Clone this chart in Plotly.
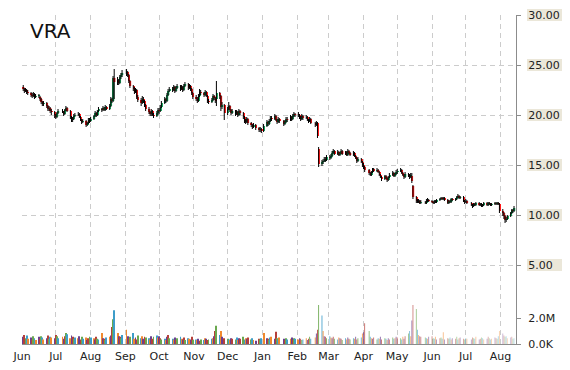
import pandas as pd
import plotly.graph_objects as go

# ---------------- data ----------------
ticker = "VRA"
holidays = ["2014-07-04", "2014-09-01", "2014-11-27", "2014-12-25", "2015-01-01",
            "2015-01-19", "2015-02-16", "2015-04-03", "2015-05-25", "2015-07-03"]
month_starts = ["2014-06-01", "2014-07-01", "2014-08-01", "2014-09-01", "2014-10-01",
                "2014-11-01", "2014-12-01", "2015-01-01", "2015-02-01", "2015-03-01",
                "2015-04-01", "2015-05-01", "2015-06-01", "2015-07-01", "2015-08-01"]
month_labels = ["Jun", "Jul", "Aug", "Sep", "Oct", "Nov", "Dec", "Jan", "Feb", "Mar",
                "Apr", "May", "Jun", "Jul", "Aug"]
price_ticks = [5, 10, 15, 20, 25, 30]
price_labels = ["5.00", "10.00", "15.00", "20.00", "25.00", "30.00"]
volume_ticks = [0, 2_000_000]
volume_labels = ["0.0K", "2.0M"]

opens = [
    22.8, 22.6, 22.4, 22.5, 22.3, 22.2, 22.0, 21.9, 22.1, 21.8, 21.9, 21.8, 21.6, 21.3, 21.1, 21.2, 20.9, 20.6, 20.7, 20.4, 20.3,
    20.0, 19.8, 20.2, 20.4, 20.3, 20.1, 20.5, 20.7, 20.4, 19.8, 19.5, 19.6, 19.9, 20.0, 20.1, 19.8, 19.5, 19.3, 19.4, 19.0, 19.2, 19.5,
    19.4, 19.6, 19.9, 20.2, 20.0, 20.4, 20.6, 20.5, 20.7, 20.5, 20.8, 20.6, 20.9, 21.6, 21.4, 23.7, 23.3, 23.5, 23.2, 23.8, 24.0,
    24.2, 24.3, 24.0, 23.4, 22.9, 22.6, 22.3, 22.5, 21.8, 21.5, 21.2, 21.6, 21.4, 21.0, 20.6, 20.3, 20.1, 20.4, 20.0, 19.9, 20.2,
    20.5, 20.4, 20.8, 21.2, 21.6, 21.4, 22.0, 22.4, 22.6, 22.5, 22.8, 22.4, 22.7, 22.9, 22.6, 22.8, 22.5, 22.9, 23.1, 22.7, 22.9, 22.6, 22.2,
    21.8, 21.6, 21.4, 21.9, 22.3, 22.2, 22.0, 22.3, 21.9, 21.4, 21.3, 21.5, 21.9, 21.7, 21.6, 22.2, 21.9, 20.8, 21.0,
    20.2, 20.6, 20.9, 20.5, 20.2, 20.4, 20.1, 20.3, 20.0, 20.4, 20.2, 19.8, 19.4, 19.3, 19.6, 19.2, 19.0, 18.8, 19.0, 18.7, 18.5, 18.6,
    18.4, 18.9, 19.3, 19.1, 19.4, 19.7, 19.6, 19.9, 19.5, 19.3, 19.6, 19.4, 19.1, 19.3, 19.6, 19.5, 19.8, 19.6, 19.9, 20.1,
    20.1, 20.0, 19.8, 19.6, 19.9, 19.7, 19.8, 19.5, 19.4, 19.6, 19.2, 19.0, 19.2, 16.6, 15.1, 15.3, 15.4, 15.6, 15.5,
    15.8, 15.7, 15.9, 16.2, 16.4, 16.1, 16.3, 16.0, 16.2, 16.4, 16.1, 16.3, 16.0, 16.4, 16.2, 16.0, 16.2, 15.9, 15.7, 15.4, 15.6, 15.3,
    15.0, 14.8, 14.5, 14.2, 14.0, 14.3, 14.6, 14.4, 14.5, 14.3, 14.0, 13.8, 13.6, 13.9, 13.7, 13.5, 13.8, 14.0, 14.2, 13.9, 14.1,
    14.3, 14.4, 14.5, 14.2, 14.0, 13.8, 14.1, 14.0, 13.8, 13.9, 12.9, 11.8, 11.4, 11.3, 11.4, 11.2, 11.3, 11.2, 11.4, 11.5,
    11.4, 11.3, 11.2, 11.4, 11.3, 11.5, 11.6, 11.7, 11.6, 11.7, 11.5, 11.2, 11.4, 11.3, 11.6, 11.5, 11.6, 11.8, 11.9, 11.7, 11.8, 11.4,
    11.3, 11.4, 11.2, 11.0, 10.9, 11.1, 11.0, 11.2, 11.0, 11.1, 10.9, 11.0, 11.2, 11.0, 11.2, 11.1, 11.0, 11.1, 11.2, 11.1, 11.2, 11.1,
    10.4, 10.2, 9.9, 9.5, 9.6, 9.9, 10.2, 10.5, 10.4,
]
highs = [
    23.0, 22.7, 22.7, 22.6, 22.5, 22.3, 22.2, 22.3, 22.2, 22.1, 22.1, 21.9, 21.7, 21.4, 21.4, 21.3, 21.0, 20.9, 20.8, 20.6, 20.4,
    20.1, 20.3, 20.6, 20.6, 20.4, 20.6, 20.9, 20.8, 20.5, 19.9, 19.8, 20.1, 20.2, 20.3, 20.2, 19.9, 19.6, 19.6, 19.5, 19.3, 19.7, 19.7,
    19.8, 20.0, 20.4, 20.3, 20.5, 20.8, 20.7, 20.9, 20.8, 21.0, 20.9, 21.1, 21.8, 21.7, 23.9, 24.6, 23.8, 23.6, 24.0, 24.2, 24.5,
    24.6, 24.4, 24.1, 23.5, 23.0, 22.8, 22.7, 22.6, 22.0, 21.7, 21.9, 21.8, 21.5, 21.1, 20.8, 20.4, 20.6, 20.5, 20.2, 20.4, 20.7,
    20.7, 21.0, 21.4, 21.8, 21.7, 22.2, 22.6, 22.8, 22.8, 23.0, 22.9, 22.9, 23.1, 23.0, 23.0, 22.9, 23.1, 23.3, 23.2, 23.1, 23.0, 22.7, 22.3,
    22.0, 21.8, 22.1, 22.6, 22.5, 22.3, 22.5, 22.4, 22.0, 21.6, 21.7, 22.1, 22.0, 21.8, 23.4, 22.3, 22.0, 21.3, 21.1,
    20.8, 21.3, 21.0, 20.6, 20.6, 20.5, 20.5, 20.4, 20.6, 20.5, 20.3, 19.9, 19.6, 19.8, 19.7, 19.3, 19.1, 19.2, 19.1, 18.8, 18.8, 18.7,
    19.1, 19.5, 19.4, 19.6, 19.9, 19.9, 20.1, 20.0, 19.6, 19.8, 19.7, 19.5, 19.5, 19.8, 19.8, 20.0, 19.9, 20.1, 20.3, 20.2,
    20.3, 20.1, 19.9, 20.1, 20.0, 20.0, 19.9, 19.6, 19.8, 19.7, 19.3, 19.4, 19.3, 16.8, 15.5, 15.6, 15.8, 15.8, 16.0,
    16.0, 16.1, 16.4, 16.6, 16.5, 16.5, 16.4, 16.3, 16.6, 16.5, 16.4, 16.4, 16.6, 16.5, 16.3, 16.4, 16.3, 16.0, 15.8, 15.8, 15.7, 15.4,
    15.2, 14.9, 14.6, 14.3, 14.4, 14.7, 14.7, 14.7, 14.6, 14.4, 14.1, 13.9, 14.0, 14.0, 13.8, 13.9, 14.2, 14.4, 14.3, 14.2, 14.5,
    14.6, 14.7, 14.6, 14.3, 14.1, 14.3, 14.2, 14.1, 14.2, 14.2, 13.0, 11.9, 11.6, 11.6, 11.5, 11.5, 11.4, 11.6, 11.7, 11.6,
    11.5, 11.4, 11.5, 11.5, 11.6, 11.7, 11.8, 11.8, 11.8, 11.8, 11.6, 11.5, 11.5, 11.7, 11.7, 11.7, 11.9, 12.1, 12.0, 11.9, 11.9, 11.5,
    11.6, 11.5, 11.3, 11.1, 11.2, 11.2, 11.3, 11.3, 11.2, 11.2, 11.1, 11.3, 11.3, 11.3, 11.3, 11.2, 11.2, 11.3, 11.3, 11.3, 11.3, 11.2,
    10.6, 10.3, 10.0, 9.8, 10.0, 10.3, 10.6, 10.6, 10.9,
]
lows = [
    22.4, 22.2, 22.3, 22.1, 22.0, 21.8, 21.7, 21.8, 21.6, 21.7, 21.7, 21.4, 21.1, 20.9, 20.9, 20.7, 20.4, 20.4, 20.2, 20.0, 19.7,
    19.6, 19.7, 20.1, 20.2, 19.9, 20.0, 20.4, 20.3, 19.6, 19.3, 19.3, 19.5, 19.8, 19.9, 19.7, 19.4, 19.1, 19.2, 18.8, 18.9, 19.1, 19.2,
    19.3, 19.5, 19.8, 19.8, 19.9, 20.3, 20.3, 20.4, 20.4, 20.4, 20.5, 20.5, 20.8, 21.2, 21.3, 21.6, 23.0, 23.0, 23.1, 23.6, 23.8,
    23.9, 23.8, 23.2, 22.7, 22.4, 22.1, 22.2, 21.6, 21.3, 20.9, 21.1, 21.2, 20.8, 20.4, 20.1, 19.9, 19.9, 19.9, 19.7, 19.8, 20.0,
    20.1, 20.3, 20.7, 21.1, 21.2, 21.3, 21.9, 22.3, 22.3, 22.4, 22.2, 22.3, 22.6, 22.4, 22.5, 22.3, 22.4, 22.8, 22.5, 22.6, 22.4, 22.0, 21.6,
    21.4, 21.2, 21.3, 21.8, 22.0, 21.8, 21.9, 21.8, 21.2, 21.1, 21.2, 21.4, 21.5, 21.2, 20.9, 21.6, 20.4, 20.6, 19.5,
    20.0, 20.5, 20.3, 20.0, 20.1, 19.9, 20.0, 19.8, 19.9, 20.0, 19.6, 19.2, 19.1, 19.2, 19.0, 18.8, 18.6, 18.7, 18.5, 18.3, 18.3, 18.2,
    18.3, 18.8, 18.9, 19.0, 19.3, 19.4, 19.5, 19.4, 19.1, 19.2, 19.2, 18.9, 19.0, 19.2, 19.3, 19.4, 19.4, 19.5, 19.8, 19.8,
    19.8, 19.6, 19.4, 19.5, 19.5, 19.6, 19.4, 19.2, 19.3, 19.1, 18.8, 18.9, 17.7, 14.8, 14.9, 15.1, 15.3, 15.3, 15.4,
    15.5, 15.6, 15.8, 16.1, 16.0, 16.0, 15.9, 15.9, 16.1, 16.0, 16.0, 15.9, 15.9, 16.1, 15.9, 15.9, 15.8, 15.6, 15.2, 15.3, 15.2, 14.8,
    14.6, 14.3, 14.0, 13.9, 13.9, 14.2, 14.3, 14.3, 14.2, 13.9, 13.7, 13.4, 13.5, 13.6, 13.3, 13.4, 13.7, 13.9, 13.8, 13.8, 14.0,
    14.1, 14.3, 14.1, 13.9, 13.6, 13.7, 13.8, 13.6, 13.7, 13.2, 11.6, 11.2, 11.2, 11.2, 11.1, 11.1, 11.1, 11.1, 11.3, 11.3,
    11.2, 11.1, 11.1, 11.2, 11.2, 11.4, 11.5, 11.5, 11.5, 11.4, 11.1, 11.1, 11.2, 11.2, 11.4, 11.4, 11.5, 11.7, 11.6, 11.6, 11.3, 11.1,
    11.2, 11.1, 10.9, 10.7, 10.8, 10.9, 10.9, 10.9, 10.9, 10.8, 10.8, 10.9, 10.9, 10.9, 11.0, 10.9, 10.9, 11.0, 11.0, 11.0, 11.0, 10.2,
    9.9, 9.6, 9.2, 9.3, 9.5, 9.8, 10.1, 10.2, 10.3,
]
closes = [
    22.6, 22.4, 22.5, 22.3, 22.2, 22.0, 21.9, 22.1, 21.8, 21.9, 21.9, 21.6, 21.3, 21.1, 21.2, 20.9, 20.6, 20.7, 20.4, 20.3, 20.0,
    19.8, 20.2, 20.4, 20.3, 20.1, 20.5, 20.7, 20.4, 19.8, 19.5, 19.6, 19.9, 20.0, 20.1, 19.8, 19.5, 19.3, 19.4, 19.0, 19.2, 19.5, 19.4,
    19.6, 19.9, 20.2, 20.0, 20.4, 20.6, 20.5, 20.7, 20.5, 20.8, 20.6, 20.9, 21.6, 21.4, 23.7, 23.3, 23.5, 23.2, 23.8, 24.0, 24.2,
    24.3, 24.0, 23.4, 22.9, 22.6, 22.3, 22.5, 21.8, 21.5, 21.2, 21.6, 21.4, 21.0, 20.6, 20.3, 20.1, 20.4, 20.0, 19.9, 20.2, 20.5,
    20.4, 20.8, 21.2, 21.6, 21.4, 22.0, 22.4, 22.6, 22.5, 22.8, 22.4, 22.7, 22.9, 22.6, 22.8, 22.5, 22.9, 23.1, 22.7, 22.9, 22.6, 22.2, 21.8,
    21.6, 21.4, 21.9, 22.3, 22.2, 22.0, 22.3, 21.9, 21.4, 21.3, 21.5, 21.9, 21.7, 21.4, 22.2, 21.9, 20.8, 21.0, 20.2,
    20.6, 20.9, 20.5, 20.2, 20.4, 20.1, 20.3, 20.0, 20.4, 20.2, 19.8, 19.4, 19.3, 19.6, 19.2, 19.0, 18.8, 19.0, 18.7, 18.5, 18.6, 18.4,
    18.9, 19.3, 19.1, 19.4, 19.7, 19.6, 19.9, 19.5, 19.3, 19.6, 19.4, 19.1, 19.3, 19.6, 19.5, 19.8, 19.6, 19.9, 20.1, 20.0,
    20.0, 19.8, 19.6, 19.9, 19.7, 19.8, 19.5, 19.4, 19.6, 19.2, 19.0, 19.2, 17.9, 15.1, 15.3, 15.4, 15.6, 15.5, 15.8,
    15.7, 15.9, 16.2, 16.4, 16.1, 16.3, 16.0, 16.2, 16.4, 16.1, 16.3, 16.0, 16.4, 16.2, 16.0, 16.2, 15.9, 15.7, 15.4, 15.6, 15.3, 15.0,
    14.8, 14.5, 14.2, 14.0, 14.3, 14.6, 14.4, 14.5, 14.3, 14.0, 13.8, 13.6, 13.9, 13.7, 13.5, 13.8, 14.0, 14.2, 13.9, 14.1, 14.3,
    14.4, 14.5, 14.2, 14.0, 13.8, 14.1, 14.0, 13.8, 14.0, 13.4, 11.8, 11.4, 11.3, 11.4, 11.2, 11.3, 11.2, 11.4, 11.5, 11.4,
    11.3, 11.2, 11.4, 11.3, 11.5, 11.6, 11.7, 11.6, 11.7, 11.5, 11.2, 11.4, 11.3, 11.6, 11.5, 11.6, 11.8, 11.9, 11.7, 11.8, 11.4, 11.3,
    11.4, 11.2, 11.0, 10.9, 11.1, 11.0, 11.2, 11.0, 11.1, 10.9, 11.0, 11.2, 11.0, 11.2, 11.1, 11.0, 11.1, 11.2, 11.1, 11.2, 11.1, 10.4,
    10.2, 9.9, 9.5, 9.6, 9.9, 10.2, 10.5, 10.4, 10.7,
]
volumes_m = [
    0.55, 0.70, 0.45, 0.65, 0.40, 0.50, 0.35, 0.60, 0.45, 0.30, 0.55, 0.40, 0.60, 0.50, 0.35, 0.45, 0.65, 0.40, 0.55, 0.50, 0.45,
    0.70, 0.60, 0.45, 0.55, 0.40, 0.60, 0.85, 0.75, 0.45, 0.65, 0.55, 0.40, 0.50, 0.45, 0.60, 0.35, 0.55, 0.40, 0.50, 0.30, 0.45, 0.55,
    0.50, 0.45, 0.35, 0.55, 0.40, 0.35, 0.85, 0.45, 0.40, 0.30, 0.50, 0.55, 0.65, 1.30, 1.90, 2.60, 0.85, 0.60, 0.55, 0.45, 0.70,
    1.10, 0.60, 0.45, 0.55, 0.85, 0.40, 0.50, 0.35, 0.65, 0.45, 0.60, 0.40, 0.55, 0.50, 0.45, 0.35, 0.60, 0.40, 0.55, 0.65, 0.50,
    0.60, 0.45, 0.35, 0.40, 0.30, 0.55, 0.70, 0.45, 0.40, 0.35, 0.50, 0.30, 0.45, 0.55, 0.40, 0.35, 0.50, 0.30, 0.45, 0.40, 0.35, 0.55, 0.30,
    0.35, 0.30, 0.40, 0.25, 0.35, 0.30, 0.45, 0.40, 0.30, 0.35, 0.40, 0.45, 0.60, 1.00, 1.40, 0.70, 1.00, 0.55, 0.45,
    0.40, 0.35, 0.30, 0.45, 0.40, 0.35, 0.50, 0.30, 0.45, 0.40, 0.55, 0.35, 0.45, 0.40, 0.50, 0.35, 0.45, 0.30, 0.25, 0.40, 0.35, 0.45,
    0.85, 0.45, 0.40, 0.35, 0.50, 0.55, 0.40, 0.95, 0.45, 0.35, 0.50, 0.40, 0.30, 0.45, 0.35, 0.40, 0.50, 0.30, 0.45, 0.40,
    0.35, 0.45, 0.40, 0.30, 0.35, 0.45, 0.30, 0.40, 0.55, 0.40, 0.50, 0.80, 1.10, 3.00, 2.20, 1.00, 0.60, 0.55, 0.45,
    0.60, 0.50, 0.45, 0.55, 0.40, 0.35, 0.50, 0.45, 0.40, 0.30, 0.45, 0.35, 0.50, 0.40, 0.35, 0.45, 0.40, 0.55, 0.35, 0.45, 0.50, 0.80,
    0.90, 1.60, 1.00, 0.55, 0.45, 0.40, 0.50, 0.35, 0.45, 0.40, 0.55, 0.35, 0.45, 0.40, 0.30, 0.45, 0.35, 0.50, 0.40, 0.45, 0.55,
    0.50, 0.45, 0.35, 0.55, 0.40, 0.60, 0.80, 1.00, 0.60, 1.80, 3.00, 2.70, 1.10, 0.70, 0.60, 0.55, 0.50, 0.45, 0.40, 0.55,
    0.60, 0.45, 0.40, 0.55, 0.35, 0.45, 0.50, 0.40, 0.90, 0.35, 0.45, 0.40, 0.50, 0.35, 0.45, 0.40, 0.55, 0.35, 0.45, 0.50, 0.40, 0.35,
    0.45, 0.40, 0.35, 0.50, 0.45, 0.40, 0.55, 0.35, 0.40, 0.50, 0.45, 0.35, 0.40, 0.55, 0.45, 0.35, 0.40, 0.50, 0.45, 0.40, 0.60, 1.00,
    0.80, 0.65, 0.55, 0.60, 0.45, 0.50, 0.55, 0.40, 0.45,
]

# ---------------- build ----------------
dates = pd.bdate_range("2014-06-02", "2015-08-13", freq="C", holidays=holidays)
n = len(dates)
assert n == len(opens) == len(highs) == len(lows) == len(closes) == len(volumes_m), (
    n, len(opens), len(highs), len(lows), len(closes), len(volumes_m))
volumes = [v * 1_000_000 for v in volumes_m]

palette = [(107, 63, 143), (181, 64, 58), (106, 168, 79), (61, 157, 201), (240, 137, 47)]
fade_start = pd.Timestamp("2015-02-01")
fade_end = pd.Timestamp("2015-08-13")
bar_colors = []
for i, d in enumerate(dates):
    r, g, b = palette[i % len(palette)]
    if d < fade_start:
        a = 1.0
    else:
        a = 1.0 - 0.65 * (d - fade_start) / (fade_end - fade_start)
    bar_colors.append(f"rgba({r},{g},{b},{a:.2f})")

# candle wicks (black) and bodies (green up / red down)
wick_x, wick_y = [], []
for d, h, l in zip(dates, highs, lows):
    wick_x += [d, d, None]
    wick_y += [l, h, None]
body_base = [min(o, c) for o, c in zip(opens, closes)]
body_len = [max(abs(c - o), 0.06) for o, c in zip(opens, closes)]
body_col = ["#19a85f" if c >= o else "#ff1a1a" for o, c in zip(opens, closes)]

GRID = "#cccccc"
AXIS = "#8c8c8c"
FONT = dict(family="DejaVu Sans", size=11, color="#222222")
PMIN, PMAX = -2.9, 30.0
DAY = 86400000

fig = go.Figure()
fig.add_trace(go.Bar(
    x=dates, y=volumes, yaxis="y2",
    marker=dict(color=bar_colors, line=dict(width=0)),
    width=0.8 * DAY, hoverinfo="skip",
))
fig.add_trace(go.Scatter(
    x=wick_x, y=wick_y, mode="lines",
    line=dict(color="black", width=1), hoverinfo="skip",
))
fig.add_trace(go.Bar(
    x=dates, y=body_len, base=body_base,
    marker=dict(color=body_col, line=dict(width=0)),
    width=1.3 * DAY, offset=-0.2 * DAY, hoverinfo="skip",
))

shapes = []
for p in price_ticks:
    yc = (p - PMIN) / (PMAX - PMIN)
    shapes.append(dict(type="rect", xref="paper", yref="paper",
                       x0=1 + 11 / 494, x1=1 + 46 / 494,
                       y0=yc - 6 / 329, y1=yc + 6 / 329,
                       fillcolor="#ebe7d9", line=dict(width=0), layer="below"))

fig.update_layout(
    width=570, height=370,
    margin=dict(l=22, r=54, t=15, b=26, autoexpand=False),
    paper_bgcolor="white", plot_bgcolor="rgba(0,0,0,0)",
    showlegend=False,
    barmode="overlay",
    shapes=shapes,
    xaxis=dict(
        type="date", range=["2014-05-31 22:00", "2015-08-14 18:00"],
        tickvals=month_starts, ticktext=month_labels,
        showgrid=True, gridcolor=GRID, griddash="5px,4px", gridwidth=1,
        showline=True, linecolor=AXIS, linewidth=1,
        ticks="", tickfont=FONT, zeroline=False, automargin=False,
        ticklabelstandoff=2,
    ),
    yaxis=dict(
        side="right", range=[PMIN, PMAX],
        tickvals=price_ticks, ticktext=price_labels,
        showgrid=True, gridcolor=GRID, griddash="5px,4px", gridwidth=1,
        showline=True, linecolor=AXIS, linewidth=1,
        ticks="outside", ticklen=4, tickcolor=AXIS, tickfont=FONT,
        zeroline=False, ticklabelstandoff=5, automargin=False,
    ),
    yaxis2=dict(
        overlaying="y", side="right", range=[0, 329 / 13 * 1_000_000],
        tickvals=volume_ticks, ticktext=volume_labels,
        showgrid=False, showline=False, zeroline=False,
        ticks="outside", ticklen=4, tickcolor=AXIS, tickfont=FONT,
        ticklabelstandoff=5, automargin=False,
    ),
    annotations=[dict(
        text=ticker, xref="paper", yref="paper",
        x=6 / 494, y=1 - 16 / 329, xanchor="left", yanchor="middle",
        showarrow=False, font=dict(family="DejaVu Sans", size=20, color="#111111"),
    )],
)

fig.write_html("out.html")
